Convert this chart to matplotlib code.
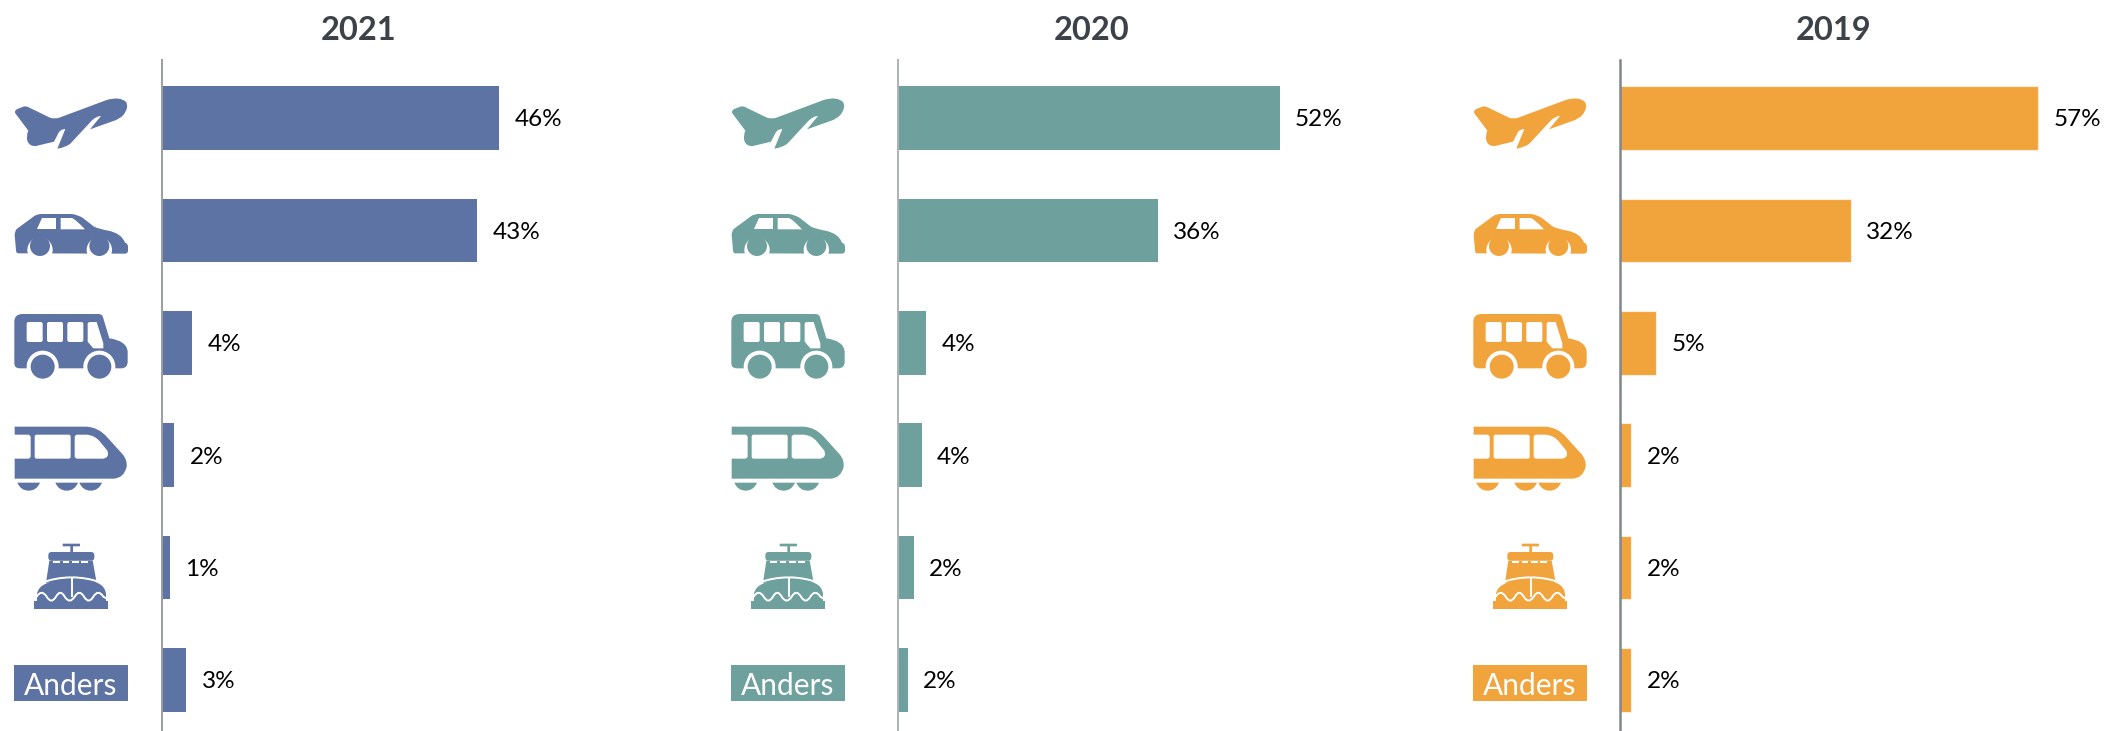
import matplotlib
matplotlib.use("Agg")
import matplotlib.pyplot as plt
from matplotlib.path import Path
from matplotlib.patches import PathPatch, Circle, Rectangle
from matplotlib.transforms import Affine2D

plt.rcParams["font.family"] = ["Lato", "DejaVu Sans"]

categorieen = ["Vliegtuig", "Auto", "Bus", "Trein", "Boot", "Anders"]

jaren = ["2021", "2020", "2019"]
waarden_2021 = [45.9, 42.9, 4.1, 1.7, 1.1, 3.3]
waarden_2020 = [52.0, 35.4, 3.9, 3.3, 2.2, 1.4]
waarden_2019 = [57.0, 31.5, 5.0, 1.6, 1.6, 1.6]
labels_2021 = ["46%", "43%", "4%", "2%", "1%", "3%"]
labels_2020 = ["52%", "36%", "4%", "4%", "2%", "2%"]
labels_2019 = ["57%", "32%", "5%", "2%", "2%", "2%"]

BLAUW = "#5d73a3"
GROEN = "#6ea19d"
ORANJE = "#f2a43c"
W, H = 2104, 731


def pad(*cmds):
    # kleine svg-achtige notatie: M/L/Q met punten, Z sluit af
    verts, codes = [], []
    for c in cmds:
        if c[0] == "M":
            verts.append(c[1:]); codes.append(Path.MOVETO)
        elif c[0] == "L":
            verts.append(c[1:]); codes.append(Path.LINETO)
        elif c[0] == "Q":
            verts += [c[1:3], c[3:5]]; codes += [Path.CURVE3, Path.CURVE3]
        elif c[0] == "Z":
            verts.append((0, 0)); codes.append(Path.CLOSEPOLY)
    return Path(verts, codes)


def rond_rect(x0, y0, x1, y1, r=6):
    return pad(("M", x0 + r, y0), ("L", x1 - r, y0), ("Q", x1, y0, x1, y0 + r),
               ("L", x1, y1 - r), ("Q", x1, y1, x1 - r, y1), ("L", x0 + r, y1),
               ("Q", x0, y1, x0, y1 - r), ("L", x0, y0 + r), ("Q", x0, y0, x0 + r, y0), ("Z",))


def vlak(ax, p, t, kleur, z=3):
    ax.add_patch(PathPatch(p, transform=t + ax.transData, facecolor=kleur, edgecolor="none", zorder=z))


def lijn(ax, p, t, lw=1.4, z=5):
    ax.add_patch(PathPatch(p, transform=t + ax.transData, facecolor="none", edgecolor="white",
                           linewidth=lw, zorder=z, capstyle="butt"))


def cirkel(ax, x, y, r, t, kleur, z):
    ax.add_patch(Circle((x, y), r, transform=t + ax.transData, facecolor=kleur, edgecolor="none", zorder=z))


def vliegtuig(ax, dx, kleur):
    t = Affine2D().scale(1 / 3).translate(dx, 50)
    vlak(ax, pad(("M", 46, 190), ("Q", 42, 182, 52, 177), ("L", 70, 170), ("Q", 78, 167, 86, 172),
                 ("L", 150, 203), ("Q", 163, 208, 178, 203), ("L", 320, 150),
                 ("Q", 360, 138, 378, 156), ("Q", 388, 172, 370, 195), ("Q", 358, 208, 340, 213),
                 ("L", 270, 238), ("L", 303, 198), ("Q", 290, 198, 276, 211), ("L", 212, 280),
                 ("Q", 198, 292, 172, 296), ("L", 196, 237), ("Q", 180, 238, 175, 250),
                 ("L", 162, 275), ("L", 108, 288), ("Q", 88, 290, 82, 272), ("Q", 78, 258, 85, 242), ("Z",)),
         t, kleur)


def auto(ax, dx, kleur):
    t = Affine2D().scale(1 / 3).translate(dx, 50)
    vlak(ax, pad(("M", 50, 537), ("L", 103, 498), ("Q", 112, 492, 125, 492), ("L", 215, 492),
                 ("Q", 235, 494, 250, 505), ("L", 282, 530), ("Q", 300, 538, 325, 542),
                 ("Q", 365, 550, 375, 578), ("Q", 384, 580, 384, 590), ("L", 384, 603),
                 ("Q", 383, 611, 375, 611), ("L", 55, 610), ("Q", 48, 610, 48, 600),
                 ("L", 44, 555), ("Q", 44, 545, 50, 537), ("Z",)), t, kleur)
    vlak(ax, pad(("M", 126, 505), ("L", 168, 505), ("L", 168, 538), ("L", 111, 538), ("Z",)), t, "white", 4)
    vlak(ax, pad(("M", 182, 504), ("L", 215, 504), ("Q", 225, 506, 255, 538), ("L", 182, 538), ("Z",)), t, "white", 4)
    # wielkast wit, wiel loopt bovenaan door in de carrosserie
    for cx in (120, 298):
        cirkel(ax, cx, 600, 38, t, "white", 4)
        cirkel(ax, cx, 588, 30, t, kleur, 5)


def bus(ax, dx, kleur):
    t = Affine2D().scale(1 / 3).translate(dx, 300)
    vlak(ax, pad(("M", 43, 65), ("Q", 43, 42, 68, 42), ("L", 295, 42), ("Q", 308, 42, 310, 55),
                 ("L", 328, 115), ("Q", 380, 122, 383, 155), ("L", 383, 185), ("Q", 383, 205, 363, 205),
                 ("L", 60, 205), ("Q", 43, 205, 43, 190), ("Z",)), t, kleur)
    for x0 in (80, 141, 202):
        vlak(ax, rond_rect(x0, 66, x0 + 48, 126), t, "white", 4)
    vlak(ax, pad(("M", 263, 72), ("Q", 263, 66, 270, 66), ("L", 290, 66), ("L", 310, 130),
                 ("L", 310, 145), ("L", 280, 145), ("L", 263, 125), ("Z",)), t, "white", 4)
    for cx in (128, 298):
        cirkel(ax, cx, 200, 48, t, "white", 4)
        cirkel(ax, cx, 200, 36, t, kleur, 5)


def trein(ax, dx, kleur):
    t = Affine2D().scale(1 / 3).translate(dx, 400)
    vlak(ax, pad(("M", 44, 80), ("L", 260, 80), ("Q", 295, 82, 320, 110), ("L", 368, 163),
                 ("Q", 382, 180, 380, 200), ("Q", 372, 235, 340, 236), ("L", 44, 236), ("L", 44, 176),
                 ("L", 84, 176), ("Q", 92, 176, 92, 168), ("L", 92, 112), ("Q", 92, 104, 84, 104),
                 ("L", 44, 104), ("Z",)), t, kleur)
    vlak(ax, rond_rect(104, 104, 212, 176), t, "white", 4)
    vlak(ax, pad(("M", 232, 104), ("L", 260, 104), ("Q", 285, 106, 300, 125), ("L", 322, 152),
                 ("Q", 330, 172, 310, 176), ("L", 232, 176), ("Q", 224, 176, 224, 168),
                 ("L", 224, 112), ("Q", 224, 104, 232, 104), ("Z",)), t, "white", 4)
    for x0 in (52, 166, 238):
        vlak(ax, pad(("M", x0, 248), ("L", x0 + 68, 248), ("Q", x0 + 58, 272, x0 + 34, 272),
                     ("Q", x0 + 10, 272, x0, 248), ("Z",)), t, kleur)


def boot(ax, dx, kleur):
    t = Affine2D().scale(1 / 3).translate(dx, 400)
    vlak(ax, rond_rect(188, 431, 240, 439, 2), t, kleur)
    vlak(ax, rond_rect(211, 436, 219, 458, 1), t, kleur)
    vlak(ax, rond_rect(145, 456, 283, 482, 10), t, kleur)
    vlak(ax, pad(("M", 148, 482), ("L", 278, 482), ("L", 290, 548), ("L", 138, 548), ("Z",)), t, kleur)
    vlak(ax, pad(("M", 111, 610), ("L", 111, 582), ("Q", 114, 560, 140, 550), ("Q", 215, 520, 295, 550),
                 ("Q", 316, 560, 318, 582), ("L", 318, 610), ("Z",)), t, kleur)
    vlak(ax, pad(("M", 103, 603), ("L", 325, 603), ("L", 325, 627), ("L", 103, 627), ("Z",)), t, kleur)
    # streepjes onder de brug
    for x0 in (160, 188, 216, 244):
        ax.add_patch(Rectangle((x0, 482), 20, 6, transform=t + ax.transData, color="white", zorder=6, lw=0))
    lijn(ax, pad(("M", 125, 548), ("Q", 215, 516, 305, 548)), t)
    lijn(ax, pad(("M", 215, 532), ("L", 215, 592)), t)
    lijn(ax, pad(("M", 104, 596), ("L", 110, 590), ("Q", 125, 566, 140, 590), ("Q", 154, 614, 168, 590),
                 ("Q", 181, 566, 194, 590), ("Q", 209, 614, 224, 590), ("Q", 238, 566, 252, 590),
                 ("Q", 266, 614, 280, 590), ("Q", 295, 566, 310, 590), ("L", 324, 598)), t)


def anders(ax, dx, kleur):
    ax.add_patch(Rectangle((14 + dx, 665), 114, 36, facecolor=kleur, edgecolor="none", zorder=3))
    ax.text(71 + dx, 683.5, categorieen[-1], color="white", fontsize=21.5, ha="center", va="center_baseline", zorder=4)


fig = plt.figure(figsize=(W / 100, H / 100), dpi=100, facecolor="white")

# overlay in pixels voor titels en pictogrammen
ov = fig.add_axes([0, 0, 1, 1], zorder=2)
ov.set_xlim(0, W)
ov.set_ylim(H, 0)
ov.axis("off")
ov.patch.set_alpha(0)

panelen = [
    (jaren[0], waarden_2021, labels_2021, BLAUW, 162, 0, 358.5, "#9a9ea3", 1.4),
    (jaren[1], waarden_2020, labels_2020, GROEN, 897.5, 717, 1092, "#adb2b5", 1.4),
    (jaren[2], waarden_2019, labels_2019, ORANJE, 1619.5, 1459, 1834, "#7f878c", 1.8),
]

SCHAAL = 7.35   # pixels per procentpunt
STAP = 112.4
for jaar, waarden, labels, kleur, x0, dx, xt, askleur, aslw in panelen:
    ax = fig.add_axes([x0 / W, 0, 470 / W, (H - 60) / H], zorder=1)
    ax.set_xlim(0, 470 / SCHAAL)
    ax.set_ylim((H - 118) / STAP, -(118 - 60) / STAP)
    y = list(range(len(categorieen)))
    bars = ax.barh(y, waarden, height=0.567, color=kleur, zorder=2)
    if jaar == "2019":
        for b in bars:
            b.set_edgecolor("#fbeedd")
            b.set_linewidth(0.8)
    for yi, w, lab in zip(y, waarden, labels):
        ax.annotate(lab, (w, yi), xytext=(11, 0), textcoords="offset points",
                    ha="left", va="center_baseline", fontsize=17.5, color="black")
    for s in ("top", "right", "bottom"):
        ax.spines[s].set_visible(False)
    ax.spines["left"].set_color(askleur)
    ax.spines["left"].set_linewidth(aslw)
    ax.spines["left"].set_zorder(5)
    ax.set_xticks([])
    ax.set_yticks([])
    ax.patch.set_alpha(0)

    ov.text(xt, 27.5, jaar, fontsize=23.5, fontweight="bold", color="#3d4248",
            ha="center", va="center_baseline")
    vliegtuig(ov, dx, kleur)
    auto(ov, dx, kleur)
    bus(ov, dx, kleur)
    trein(ov, dx, kleur)
    boot(ov, dx, kleur)
    anders(ov, dx, kleur)

fig.savefig("out.png", dpi=100, facecolor="white")
